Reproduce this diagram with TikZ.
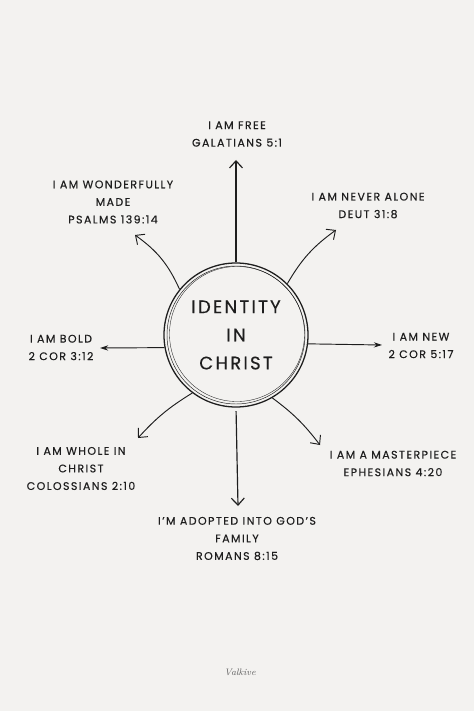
\documentclass[tikz,border=0pt]{standalone}
\usepackage{fontspec}
\newfontfamily\gothic[LetterSpace=13,FakeBold=0.4]{Poppins}
\newfontfamily\gothicbig[LetterSpace=12,FakeBold=0.3]{Poppins}
\usetikzlibrary{arrows.meta,positioning}
\definecolor{paper}{HTML}{F3F2F0}
\definecolor{ink}{HTML}{1E1E1E}
\tikzset{verse/.style={text=ink,align=center,inner sep=0pt,font=\gothic\fontsize{9.4}{15}\selectfont}}

\begin{document}
\begin{tikzpicture}[x=0.03cm, y=-0.03cm, color=ink, semithick,
  barb/.style={-{Straight Barb[length=6pt,width=11pt]}, line width=0.8pt},
  dart/.style={-{Stealth[length=7pt,width=4.5pt]}, line width=0.8pt},
  ring/.style={circle,draw,line width=1.1pt,minimum size=4.32cm,inner sep=0pt,align=center,
    font=\gothicbig\fontsize{15.5}{24}\selectfont}]
\fill[paper] (0,0) rectangle (474,711);
\useasboundingbox (0,0) rectangle (474,711);

    % centre ring
    \node[ring] (ident) at (236,335) {IDENTITY\\IN\\CHRIST};
    \draw[line width=0.4pt] (ident.center) circle[radius=69];
    \draw[line width=0.3pt] ([shift={(1,-1)}]ident.center) circle[radius=67.5];

    % verses
    \node[verse] (free) at (237,134) {I AM FREE\\GALATIANS 5:1};
    \node[verse] (wond) at (113,202) {I AM WONDERFULLY\\MADE\\PSALMS 139:14};
    \node[verse] (alone) at (368,205.5) {I AM NEVER ALONE\\DEUT 31:8};
    \node[verse] (bold) at (61,347.5) {I AM BOLD\\2 COR 3:12};
    \node[verse] (new) at (421,345.5) {I AM NEW\\2 COR 5:17};
    \node[verse] (whole) at (81,468.5) {I AM WHOLE IN\\CHRIST\\COLOSSIANS 2:10};
    \node[verse] (master) at (393,463.5) {I AM A MASTERPIECE\\EPHESIANS 4:20};
    \node[verse] (adopt) at (237,538.5) {I’M ADOPTED INTO GOD’S\\FAMILY\\ROMANS 8:15};
    \node[text=ink!70,font=\itshape\fontsize{8}{8}\selectfont] (sign) at (240,672) {Valkive};

    % arrow tips
    \coordinate (freetip) at (236,160);
    \coordinate (wondtip) at (135,235);
    \coordinate (alonetip) at (336,230);
    \coordinate (boldtip) at (100,348);
    \coordinate (newtip) at (382,345);
    \coordinate (wholetip) at (138,438);
    \coordinate (mastertip) at (320,445);
    \coordinate (adopttip) at (238,506);

    \path (ident.90) edge[barb, line width=1pt] (freetip);
    \path (ident.141) edge[barb, bend right=15] (wondtip);
    \path (ident.45) edge[barb, bend left=12] (alonetip);
    \path (ident.190) edge[dart] (boldtip);
    \path (ident.353) edge[dart] (newtip);
    \path (ident.233) edge[barb, bend right=8] (wholetip);
    \path (ident.300) edge[barb, bend left=8] (mastertip);
    \path (ident.270) edge[barb, line width=1pt, shorten <=3pt] (adopttip);
\end{tikzpicture}
\end{document}
